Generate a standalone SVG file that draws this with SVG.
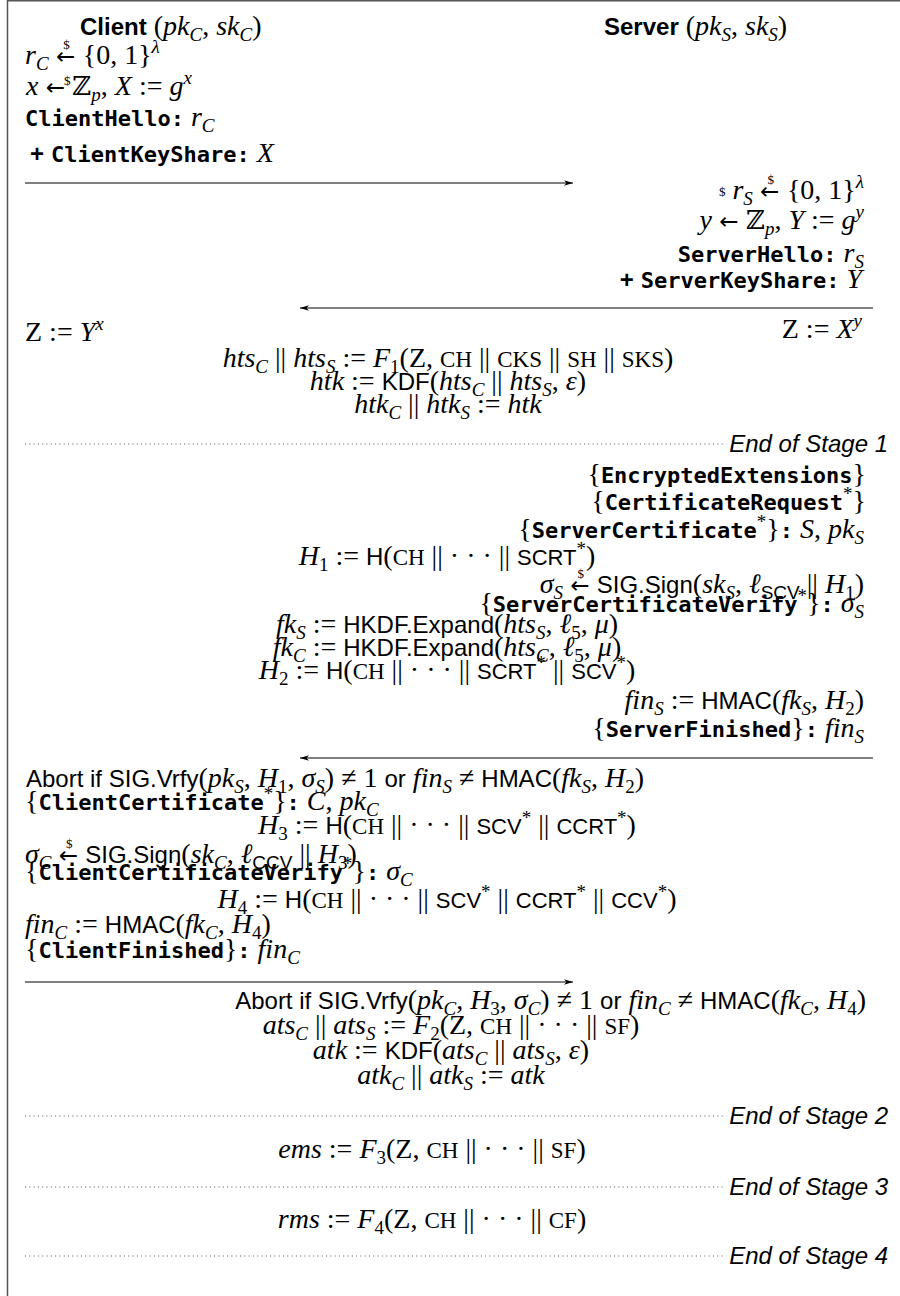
<svg xmlns="http://www.w3.org/2000/svg" width="900" height="1296" viewBox="0 0 900 1296">
<defs>
<style>
text{font-family:"Liberation Serif","DejaVu Serif",serif;font-size:28px;fill:#000}
.m{font-style:italic}
.s{font-family:"Liberation Sans",Arial,sans-serif;font-size:24px;font-style:normal}
.sb{font-family:"Liberation Sans",Arial,sans-serif;font-size:24px;font-weight:bold}
.si{font-family:"Liberation Sans",Arial,sans-serif;font-size:24px;font-style:italic}
.t{font-family:"DejaVu Sans Mono","Liberation Mono",monospace;font-weight:bold;font-size:22px}
.c{font-size:23px;font-style:normal}
.cs{font-family:"Liberation Sans",Arial,sans-serif;font-size:22px;font-style:normal}
.u{font-size:19px}
.z{font-family:"DejaVu Serif",serif;font-style:normal;font-size:26px}
.ar{font-family:"DejaVu Sans",sans-serif;font-size:23px;font-style:normal}
.d{font-size:13px;font-style:normal}
.arr{stroke:#000;stroke-width:1.1;fill:none;marker-end:url(#ah)}
.dot{stroke:#555;stroke-width:1.2;stroke-dasharray:1 3.3;fill:none}
.frame{stroke:#555;stroke-width:1.5;fill:none}
</style>
<marker id="ah" markerWidth="10" markerHeight="8" refX="9" refY="4" orient="auto" markerUnits="userSpaceOnUse"><path d="M0,1.2 L9,4 L0,6.8 L2.5,4 z" fill="#000"/></marker>
</defs>
<rect x="0" y="0" width="900" height="1296" fill="#fff"/>
<path class="frame" d="M7.5,1296 V0.75 H900"/>

<g id="connectors">
<line class="arr" x1="25" y1="183" x2="573" y2="183"/>
<line class="arr" x1="873" y1="308" x2="300" y2="308"/>
<line class="arr" x1="873" y1="758" x2="300" y2="758"/>
<line class="arr" x1="25" y1="982" x2="573" y2="982"/>
<line class="dot" x1="25" y1="444" x2="726" y2="444"/>
<line class="dot" x1="25" y1="1116" x2="726" y2="1116"/>
<line class="dot" x1="25" y1="1187" x2="726" y2="1187"/>
<line class="dot" x1="25" y1="1256" x2="726" y2="1256"/>
</g>

<g id="client-header">
<text x="80" y="35"><tspan class="sb">Client</tspan> (<tspan class="m">pk</tspan><tspan class="m u" dy="6">C</tspan><tspan dy="-6">, </tspan><tspan class="m">sk</tspan><tspan class="m u" dy="6">C</tspan><tspan dy="-6">)</tspan></text>
</g>
<g id="server-header">
<text x="604" y="35"><tspan class="sb">Server</tspan> (<tspan class="m">pk</tspan><tspan class="m u" dy="6">S</tspan><tspan dy="-6">, </tspan><tspan class="m">sk</tspan><tspan class="m u" dy="6">S</tspan><tspan dy="-6">)</tspan></text>
</g>

<g id="client-hello">
<text x="25" y="64"><tspan class="m">r</tspan><tspan class="m u" dy="6">C</tspan><tspan class="ar" dy="-6"> ←</tspan><tspan class="d" dx="-12" dy="-15">$</tspan><tspan dx="6" dy="15"> {0, 1}</tspan><tspan class="m u" dy="-11">λ</tspan></text>
<text class="d" x="64" y="85">$</text>
<text x="26" y="95"><tspan class="m">x</tspan><tspan class="ar"> ← </tspan><tspan class="z">ℤ</tspan><tspan class="m u" dy="6">p</tspan><tspan dy="-6">, </tspan><tspan class="m">X</tspan> := <tspan class="m">g</tspan><tspan class="m u" dy="-11">x</tspan></text>
<text x="25" y="126"><tspan class="t">ClientHello:</tspan> <tspan class="m">r</tspan><tspan class="m u" dy="6">C</tspan></text>
<text x="30" y="162"><tspan class="sb">+</tspan> <tspan class="t">ClientKeyShare:</tspan> <tspan class="m">X</tspan></text>
</g>

<g id="server-hello">
<text x="864" y="199" text-anchor="end"><tspan class="d" dy="-3">$</tspan><tspan class="m" dy="3"> r</tspan><tspan class="m u" dy="6">S</tspan><tspan class="ar" dy="-6"> ←</tspan><tspan class="d" dx="-12" dy="-15">$</tspan><tspan dx="6" dy="15"> {0, 1}</tspan><tspan class="m u" dy="-11">λ</tspan></text>
<text x="864" y="229" text-anchor="end"><tspan class="m">y</tspan><tspan class="ar"> ← </tspan><tspan class="z">ℤ</tspan><tspan class="m u" dy="6">p</tspan><tspan dy="-6">, </tspan><tspan class="m">Y</tspan> := <tspan class="m">g</tspan><tspan class="m u" dy="-11">y</tspan></text>
<text x="864" y="262" text-anchor="end"><tspan class="t">ServerHello:</tspan> <tspan class="m">r</tspan><tspan class="m u" dy="6">S</tspan></text>
<text x="862" y="288" text-anchor="end"><tspan class="sb">+</tspan> <tspan class="t">ServerKeyShare:</tspan> <tspan class="m">Y</tspan></text>
</g>

<g id="key-exchange">
<text x="25" y="341">Z := <tspan class="m">Y</tspan><tspan class="m u" dy="-11">x</tspan></text>
<text x="862" y="338" text-anchor="end">Z := <tspan class="m">X</tspan><tspan class="m u" dy="-11">y</tspan></text>
<text x="448" y="367" text-anchor="middle"><tspan class="m">hts</tspan><tspan class="m u" dy="6">C</tspan><tspan dy="-6"> || </tspan><tspan class="m">hts</tspan><tspan class="m u" dy="6">S</tspan><tspan dy="-6"> := </tspan><tspan class="m">F</tspan><tspan class="u" dy="6">1</tspan><tspan dy="-6">(Z, </tspan><tspan class="c">CH</tspan> || <tspan class="c">CKS</tspan> || <tspan class="c">SH</tspan> || <tspan class="c">SKS</tspan>)</text>
<text x="448" y="390" text-anchor="middle"><tspan class="m">htk</tspan> := <tspan class="s">KDF</tspan>(<tspan class="m">hts</tspan><tspan class="m u" dy="6">C</tspan><tspan dy="-6"> || </tspan><tspan class="m">hts</tspan><tspan class="m u" dy="6">S</tspan><tspan dy="-6">, </tspan><tspan class="m">ε</tspan>)</text>
<text x="448" y="413" text-anchor="middle"><tspan class="m">htk</tspan><tspan class="m u" dy="6">C</tspan><tspan dy="-6"> || </tspan><tspan class="m">htk</tspan><tspan class="m u" dy="6">S</tspan><tspan dy="-6"> := </tspan><tspan class="m">htk</tspan></text>
</g>

<g id="stage1-label"><text class="si" x="888" y="452" text-anchor="end">End of Stage 1</text></g>

<g id="server-flight">
<text x="866" y="483" text-anchor="end">{<tspan class="t">EncryptedExtensions</tspan>}</text>
<text x="866" y="510" text-anchor="end">{<tspan class="t">CertificateRequest</tspan><tspan class="u" dy="-10">*</tspan><tspan dy="10">}</tspan></text>
<text x="864" y="538" text-anchor="end">{<tspan class="t">ServerCertificate</tspan><tspan class="u" dy="-10">*</tspan><tspan dy="10">}</tspan><tspan class="t">:</tspan> <tspan class="m">S</tspan>, <tspan class="m">pk</tspan><tspan class="m u" dy="6">S</tspan></text>
<text x="447" y="565" text-anchor="middle"><tspan class="m">H</tspan><tspan class="u" dy="6">1</tspan><tspan dy="-6"> := </tspan><tspan class="s">H</tspan>(<tspan class="c">CH</tspan> || · · · || <tspan class="cs">SCRT</tspan><tspan class="u" dy="-10">*</tspan><tspan dy="10">)</tspan></text>
<text x="864" y="593" text-anchor="end"><tspan class="m">σ</tspan><tspan class="m u" dy="6">S</tspan><tspan class="ar" dy="-6"> ←</tspan><tspan class="d" dx="-12" dy="-15">$</tspan><tspan class="s" dx="6" dy="15"> SIG.Sign</tspan>(<tspan class="m">sk</tspan><tspan class="m u" dy="6">S</tspan><tspan dy="-6">, </tspan><tspan class="m">ℓ</tspan><tspan class="cs u" dy="6">SCV</tspan><tspan dy="-6"> || </tspan><tspan class="m">H</tspan><tspan class="u" dy="6">1</tspan><tspan dy="-6">)</tspan></text>
<text x="864" y="612" text-anchor="end">{<tspan class="t">ServerCertificateVerify</tspan><tspan class="u" dy="-10">*</tspan><tspan dy="10">}</tspan><tspan class="t">:</tspan> <tspan class="m">σ</tspan><tspan class="m u" dy="6">S</tspan></text>
<text x="447" y="633" text-anchor="middle"><tspan class="m">fk</tspan><tspan class="m u" dy="6">S</tspan><tspan dy="-6"> := </tspan><tspan class="s">HKDF.Expand</tspan>(<tspan class="m">hts</tspan><tspan class="m u" dy="6">S</tspan><tspan dy="-6">, </tspan><tspan class="m">ℓ</tspan><tspan class="u" dy="6">5</tspan><tspan dy="-6">, </tspan><tspan class="m">μ</tspan>)</text>
<text x="447" y="656" text-anchor="middle"><tspan class="m">fk</tspan><tspan class="m u" dy="6">C</tspan><tspan dy="-6"> := </tspan><tspan class="s">HKDF.Expand</tspan>(<tspan class="m">hts</tspan><tspan class="m u" dy="6">C</tspan><tspan dy="-6">, </tspan><tspan class="m">ℓ</tspan><tspan class="u" dy="6">5</tspan><tspan dy="-6">, </tspan><tspan class="m">μ</tspan>)</text>
<text x="447" y="679" text-anchor="middle"><tspan class="m">H</tspan><tspan class="u" dy="6">2</tspan><tspan dy="-6"> := </tspan><tspan class="s">H</tspan>(<tspan class="c">CH</tspan> || · · · || <tspan class="cs">SCRT</tspan><tspan class="u" dy="-10">*</tspan><tspan dy="10"> || </tspan><tspan class="cs">SCV</tspan><tspan class="u" dy="-10">*</tspan><tspan dy="10">)</tspan></text>
<text x="864" y="709" text-anchor="end"><tspan class="m">fin</tspan><tspan class="m u" dy="6">S</tspan><tspan dy="-6"> := </tspan><tspan class="s">HMAC</tspan>(<tspan class="m">fk</tspan><tspan class="m u" dy="6">S</tspan><tspan dy="-6">, </tspan><tspan class="m">H</tspan><tspan class="u" dy="6">2</tspan><tspan dy="-6">)</tspan></text>
<text x="864" y="737" text-anchor="end">{<tspan class="t">ServerFinished</tspan>}<tspan class="t">:</tspan> <tspan class="m">fin</tspan><tspan class="m u" dy="6">S</tspan></text>
</g>

<g id="client-flight">
<text x="26" y="787"><tspan class="s">Abort if SIG.Vrfy</tspan>(<tspan class="m">pk</tspan><tspan class="m u" dy="6">S</tspan><tspan dy="-6">, </tspan><tspan class="m">H</tspan><tspan class="u" dy="6">1</tspan><tspan dy="-6">, </tspan><tspan class="m">σ</tspan><tspan class="m u" dy="6">S</tspan><tspan dy="-6">) ≠ 1 </tspan><tspan class="s">or</tspan> <tspan class="m">fin</tspan><tspan class="m u" dy="6">S</tspan><tspan dy="-6"> ≠ </tspan><tspan class="s">HMAC</tspan>(<tspan class="m">fk</tspan><tspan class="m u" dy="6">S</tspan><tspan dy="-6">, </tspan><tspan class="m">H</tspan><tspan class="u" dy="6">2</tspan><tspan dy="-6">)</tspan></text>
<text x="25" y="810">{<tspan class="t">ClientCertificate</tspan><tspan class="u" dy="-10">*</tspan><tspan dy="10">}</tspan><tspan class="t">:</tspan> <tspan class="m">C</tspan>, <tspan class="m">pk</tspan><tspan class="m u" dy="6">C</tspan></text>
<text x="447" y="834" text-anchor="middle"><tspan class="m">H</tspan><tspan class="u" dy="6">3</tspan><tspan dy="-6"> := </tspan><tspan class="s">H</tspan>(<tspan class="c">CH</tspan> || · · · || <tspan class="cs">SCV</tspan><tspan class="u" dy="-10">*</tspan><tspan dy="10"> || </tspan><tspan class="cs">CCRT</tspan><tspan class="u" dy="-10">*</tspan><tspan dy="10">)</tspan></text>
<text x="25" y="863"><tspan class="m">σ</tspan><tspan class="m u" dy="6">C</tspan><tspan class="ar" dy="-6"> ←</tspan><tspan class="d" dx="-12" dy="-15">$</tspan><tspan class="s" dx="6" dy="15"> SIG.Sign</tspan>(<tspan class="m">sk</tspan><tspan class="m u" dy="6">C</tspan><tspan dy="-6">, </tspan><tspan class="m">ℓ</tspan><tspan class="cs u" dy="6">CCV</tspan><tspan dy="-6"> || </tspan><tspan class="m">H</tspan><tspan class="u" dy="6">3</tspan><tspan dy="-6">)</tspan></text>
<text x="25" y="880">{<tspan class="t">ClientCertificateVerify</tspan><tspan class="u" dy="-10">*</tspan><tspan dy="10">}</tspan><tspan class="t">:</tspan> <tspan class="m">σ</tspan><tspan class="m u" dy="6">C</tspan></text>
<text x="447" y="908" text-anchor="middle"><tspan class="m">H</tspan><tspan class="u" dy="6">4</tspan><tspan dy="-6"> := </tspan><tspan class="s">H</tspan>(<tspan class="c">CH</tspan> || · · · || <tspan class="cs">SCV</tspan><tspan class="u" dy="-10">*</tspan><tspan dy="10"> || </tspan><tspan class="cs">CCRT</tspan><tspan class="u" dy="-10">*</tspan><tspan dy="10"> || </tspan><tspan class="cs">CCV</tspan><tspan class="u" dy="-10">*</tspan><tspan dy="10">)</tspan></text>
<text x="25" y="933"><tspan class="m">fin</tspan><tspan class="m u" dy="6">C</tspan><tspan dy="-6"> := </tspan><tspan class="s">HMAC</tspan>(<tspan class="m">fk</tspan><tspan class="m u" dy="6">C</tspan><tspan dy="-6">, </tspan><tspan class="m">H</tspan><tspan class="u" dy="6">4</tspan><tspan dy="-6">)</tspan></text>
<text x="25" y="958">{<tspan class="t">ClientFinished</tspan>}<tspan class="t">:</tspan> <tspan class="m">fin</tspan><tspan class="m u" dy="6">C</tspan></text>
</g>

<g id="server-final">
<text x="866" y="1009" text-anchor="end"><tspan class="s">Abort if SIG.Vrfy</tspan>(<tspan class="m">pk</tspan><tspan class="m u" dy="6">C</tspan><tspan dy="-6">, </tspan><tspan class="m">H</tspan><tspan class="u" dy="6">3</tspan><tspan dy="-6">, </tspan><tspan class="m">σ</tspan><tspan class="m u" dy="6">C</tspan><tspan dy="-6">) ≠ 1 </tspan><tspan class="s">or</tspan> <tspan class="m">fin</tspan><tspan class="m u" dy="6">C</tspan><tspan dy="-6"> ≠ </tspan><tspan class="s">HMAC</tspan>(<tspan class="m">fk</tspan><tspan class="m u" dy="6">C</tspan><tspan dy="-6">, </tspan><tspan class="m">H</tspan><tspan class="u" dy="6">4</tspan><tspan dy="-6">)</tspan></text>
<text x="451" y="1034" text-anchor="middle"><tspan class="m">ats</tspan><tspan class="m u" dy="6">C</tspan><tspan dy="-6"> || </tspan><tspan class="m">ats</tspan><tspan class="m u" dy="6">S</tspan><tspan dy="-6"> := </tspan><tspan class="m">F</tspan><tspan class="u" dy="6">2</tspan><tspan dy="-6">(Z, </tspan><tspan class="c">CH</tspan> || · · · || <tspan class="c">SF</tspan>)</text>
<text x="451" y="1059" text-anchor="middle"><tspan class="m">atk</tspan> := <tspan class="s">KDF</tspan>(<tspan class="m">ats</tspan><tspan class="m u" dy="6">C</tspan><tspan dy="-6"> || </tspan><tspan class="m">ats</tspan><tspan class="m u" dy="6">S</tspan><tspan dy="-6">, </tspan><tspan class="m">ε</tspan>)</text>
<text x="451" y="1084" text-anchor="middle"><tspan class="m">atk</tspan><tspan class="m u" dy="6">C</tspan><tspan dy="-6"> || </tspan><tspan class="m">atk</tspan><tspan class="m u" dy="6">S</tspan><tspan dy="-6"> := </tspan><tspan class="m">atk</tspan></text>
</g>

<g id="stage2-label"><text class="si" x="888" y="1124" text-anchor="end">End of Stage 2</text></g>
<g id="ems"><text x="432" y="1158" text-anchor="middle"><tspan class="m">ems</tspan> := <tspan class="m">F</tspan><tspan class="u" dy="6">3</tspan><tspan dy="-6">(Z, </tspan><tspan class="c">CH</tspan> || · · · || <tspan class="c">SF</tspan>)</text></g>
<g id="stage3-label"><text class="si" x="888" y="1195" text-anchor="end">End of Stage 3</text></g>
<g id="rms"><text x="432" y="1228" text-anchor="middle"><tspan class="m">rms</tspan> := <tspan class="m">F</tspan><tspan class="u" dy="6">4</tspan><tspan dy="-6">(Z, </tspan><tspan class="c">CH</tspan> || · · · || <tspan class="c">CF</tspan>)</text></g>
<g id="stage4-label"><text class="si" x="888" y="1264" text-anchor="end">End of Stage 4</text></g>
</svg>
